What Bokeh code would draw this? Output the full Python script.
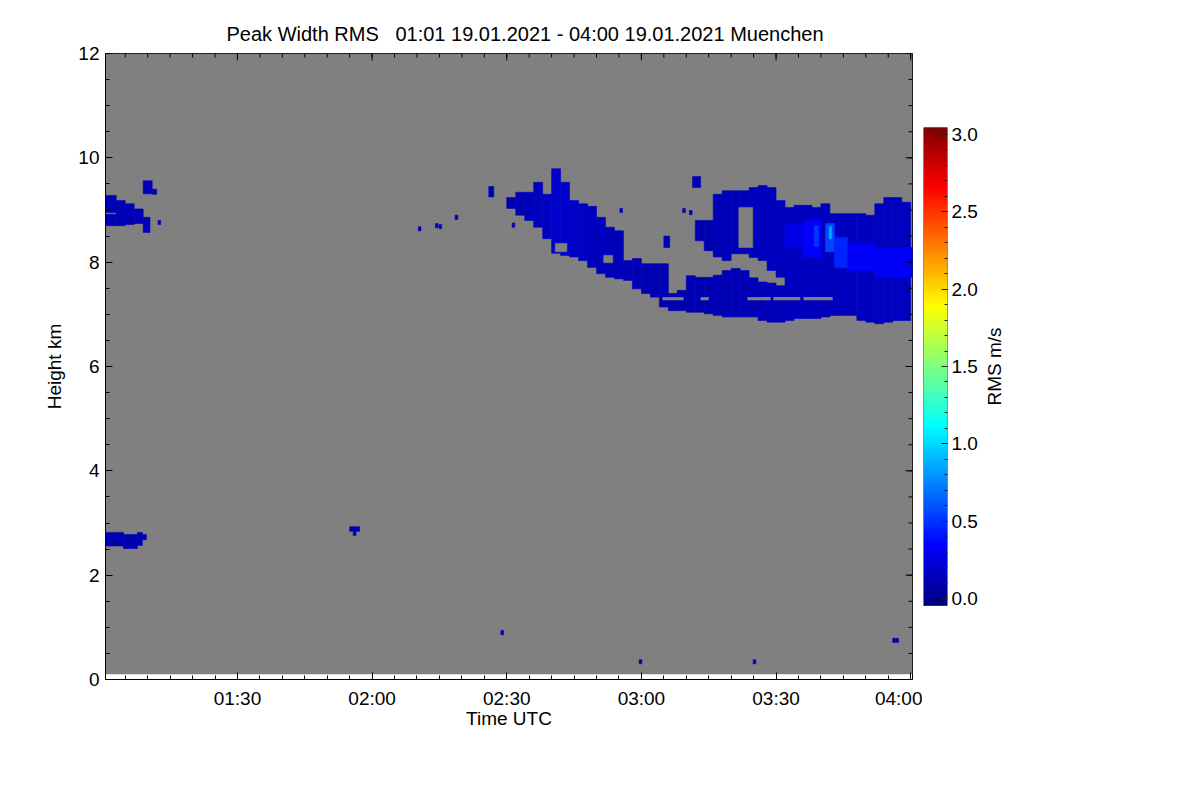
import numpy as np
from bokeh.plotting import figure
from bokeh.models import (LinearColorMapper, FixedTicker, Range1d, ColumnDataSource)
from bokeh.layouts import row
from bokeh.embed import file_html
from bokeh.resources import INLINE
from bokeh.transform import linear_cmap

# ---------------- data (time = minutes after 00:00 UTC, height = km, RMS = m/s) ----------------
NB = "\u00a0"
title_text = "Peak Width RMS" + NB * 3 + "01:01 19.01.2021 - 04:00 19.01.2021 Muenchen"
obs_start, obs_end = 60.6, 240.4
h_min, h_max = 0.1, 12.0

x_ticks = [90, 120, 150, 180, 210, 240]
x_tick_labels = ["01:30", "02:00", "02:30", "03:00", "03:30", "04:00"]
y_ticks = [0, 2, 4, 6, 8, 10, 12]
y_tick_labels = ["0", "2", "4", "6", "8", "10", "12"]
cb_ticks = [0.0, 0.5, 1.0, 1.5, 2.0, 2.5, 3.0]
cb_tick_labels = ["0.0", "0.5", "1.0", "1.5", "2.0", "2.5", "3.0"]
cb_low, cb_high = -0.045, 3.043

# main cirrus body, 2-minute columns (centre times)
main_t = [151, 153, 155, 157, 159, 161, 163, 165, 167, 169, 171, 173, 175, 177, 179,
          181, 183, 185, 187, 189, 191, 193, 195, 197, 199, 201, 203, 205, 207, 209,
          211, 213, 215, 217, 219, 221, 223, 225, 227, 229, 231, 233, 235, 237, 239]
main_bot = [9.03, 8.90, 8.80, 8.67, 8.45, 8.17, 8.13, 8.10, 8.03, 7.90, 7.78, 7.71, 7.68, 7.65, 7.49,
            7.40, 7.33, 7.14, 7.07, 7.07, 7.04, 7.04, 7.01, 6.98, 6.95, 6.95, 6.95, 6.95, 6.88, 6.85,
            6.85, 6.88, 6.92, 6.92, 6.92, 6.95, 6.98, 6.98, 6.98, 6.88, 6.85, 6.82, 6.85, 6.88, 6.88]
main_top = [9.24, 9.34, 9.34, 9.53, 9.30, 9.79, 9.53, 9.18, 9.12, 9.07, 8.86, 8.67, 8.60, 8.03, 8.07,
            7.97, 7.97, 7.97, 7.40, 7.46, 7.74, 7.71, 7.71, 7.75, 7.84, 7.88, 7.84, 7.70, 7.62, 7.60,
            7.55, 9.05, 9.09, 9.09, 9.05, 9.12, 8.93, 8.93, 8.93, 8.93, 8.90, 9.12, 9.24, 9.24, 9.15]
main_val = [0.12, 0.13, 0.14, 0.15, 0.17, 0.19, 0.19, 0.18, 0.17, 0.16, 0.15, 0.14, 0.14, 0.13, 0.13,
            0.12, 0.12, 0.12, 0.11, 0.11, 0.12, 0.12, 0.12, 0.13, 0.13, 0.13, 0.13, 0.13, 0.14, 0.14,
            0.14, 0.15, 0.16, 0.16, 0.16, 0.16, 0.16, 0.15, 0.15, 0.15, 0.15, 0.15, 0.16, 0.16, 0.16]

# upper detached part of the cloud
isl_t = [193, 195, 197, 199, 201, 203, 205, 207, 209, 211]
isl_bot = [8.41, 8.22, 8.10, 8.03, 8.16, 8.16, 8.09, 8.03, 7.84, 7.71]
isl_top = [8.80, 8.80, 9.30, 9.37, 9.37, 9.37, 9.43, 9.47, 9.43, 9.18]
isl_val = [0.12, 0.12, 0.13, 0.14, 0.14, 0.14, 0.15, 0.15, 0.15, 0.15]

# brighter (higher RMS) band inside the cloud
br_t0 = [212.0, 216.0, 218.5, 221.0, 221.8, 223.0, 226.0, 232.0]
br_t1 = [216.0, 220.0, 219.5, 223.0, 222.4, 226.0, 232.0, 240.4]
br_bot = [8.28, 8.10, 8.30, 8.20, 8.45, 7.90, 7.84, 7.71]
br_top = [8.74, 8.80, 8.70, 8.74, 8.68, 8.47, 8.36, 8.28]
br_val = [0.28, 0.34, 0.50, 0.55, 0.85, 0.45, 0.34, 0.32]

# smaller cloud patches
pt_t0 = [60.6, 60.6, 63.0, 65.0, 67.0, 69.0, 69.0, 71.0,
         60.6, 64.6, 67.7, 68.8, 115.0, 115.8,
         146.0, 191.4, 185.0]
pt_t1 = [63.0, 63.0, 65.0, 67.0, 69.0, 70.5, 71.0, 72.0,
         64.6, 67.7, 68.8, 69.7, 117.2, 116.4,
         147.1, 193.2, 186.3]
pt_bot = [8.95, 8.70, 8.70, 8.72, 8.74, 8.57, 9.31, 9.30,
          2.56, 2.51, 2.57, 2.68, 2.84, 2.76,
          9.25, 9.43, 8.28]
pt_top = [9.28, 8.92, 9.18, 9.12, 9.02, 8.86, 9.56, 9.40,
          2.82, 2.78, 2.82, 2.78, 2.93, 2.84,
          9.45, 9.64, 8.50]
pt_val = [0.13, 0.13, 0.13, 0.13, 0.13, 0.13, 0.13, 0.13,
          0.12, 0.12, 0.12, 0.12, 0.12, 0.12,
          0.13, 0.13, 0.13]

# single range-gate echoes
sp_t = [72.6, 130.6, 134.4, 135.2, 138.8, 151.5, 175.5, 189.5, 191.0, 149.0, 179.8, 205.2, 236.3, 237.0]
sp_h = [8.76, 8.64, 8.70, 8.68, 8.86, 8.71, 8.99, 8.99, 8.95, 0.90, 0.34, 0.34, 0.75, 0.75]
sp_val = [0.13, 0.13, 0.13, 0.13, 0.13, 0.13, 0.13, 0.13, 0.13, 0.12, 0.12, 0.12, 0.12, 0.12]

# no-data holes inside the cloud
gap_t0 = [201.7, 160.8, 171.6]
gap_t1 = [204.8, 163.4, 173.6]
gap_bot = [8.28, 8.20, 7.99]
gap_top = [9.05, 8.36, 8.13]

# no-data line at 7.3 km
gl_t0 = [184.7, 193.2, 203.6, 209.4, 216.1]
gl_t1 = [189.4, 195.0, 208.8, 215.4, 222.6]
gl_h = 7.30

# ---------------- styling ----------------
GRAY = "#808080"
FONT = "Liberation Sans"
FS = "19px"
FRAME_W, FRAME_H = 807, 626


def jet(n=256):
    cols = []
    for f in np.linspace(0, 1, n):
        r = np.clip(1.5 - abs(4 * f - 3), 0, 1)
        g = np.clip(1.5 - abs(4 * f - 2), 0, 1)
        b = np.clip(1.5 - abs(4 * f - 1), 0, 1)
        cols.append("#%02x%02x%02x" % (int(r * 255), int(g * 255), int(b * 255)))
    return cols


PAL = jet()
mapper = LinearColorMapper(palette=PAL, low=cb_low, high=cb_high)

# frame: x 105..912, y 53..679 (page pixels)
p = figure(width=922, height=760, x_range=Range1d(obs_start, obs_end), y_range=Range1d(0, 12),
           output_backend="svg", toolbar_location=None,
           min_border_left=105, min_border_right=10, min_border_top=53, min_border_bottom=81)
p.background_fill_color = "white"
p.border_fill_color = "white"
p.outline_line_color = "black"
p.outline_line_width = 1
p.grid.visible = False

p.title.text = title_text
p.title.align = "left"
p.title.offset = 121
p.title.standoff = 17
p.title.text_font = FONT
p.title.text_font_size = "20px"
p.title.text_font_style = "normal"
p.title.text_color = "black"

# gray "no data" background
p.quad(left=[obs_start], right=[obs_end], bottom=[h_min], top=[h_max], fill_color=GRAY, line_color=None)


def cells(l, r, b, t, v):
    src = ColumnDataSource(dict(l=l, r=r, b=b, t=t, v=v))
    cm = linear_cmap("v", PAL, cb_low, cb_high)
    p.quad(left="l", right="r", bottom="b", top="t", source=src,
           fill_color=cm, line_color=cm, line_width=0.6)


half = 1.0
cells([t - half for t in main_t], [t + half for t in main_t], main_bot, main_top, main_val)
cells([t - half for t in isl_t], [t + half for t in isl_t], isl_bot, isl_top, isl_val)
cells(br_t0, br_t1, br_bot, br_top, br_val)
cells(pt_t0, pt_t1, pt_bot, pt_top, pt_val)
cells([t - 0.3 for t in sp_t], [t + 0.3 for t in sp_t], [h - 0.04 for h in sp_h], [h + 0.04 for h in sp_h], sp_val)

p.quad(left=gap_t0, right=gap_t1, bottom=gap_bot, top=gap_top, fill_color=GRAY, line_color=GRAY, line_width=0.6)
p.quad(left=gl_t0, right=gl_t1, bottom=[gl_h - 0.03] * len(gl_t0), top=[gl_h + 0.03] * len(gl_t0),
       fill_color=GRAY, line_color=None)

x_minor = list(range(65, 241, 5))
y_minor = [i * 0.5 for i in range(25)]

# mirrored tick marks on the top and right frame edges
kx = (obs_end - obs_start) / FRAME_W   # minutes per pixel
ky = 12.0 / FRAME_H                    # km per pixel
MAJ, MIN = 7, 4
p.segment(x0=x_ticks, x1=x_ticks, y0=[12] * len(x_ticks), y1=[12 - MAJ * ky] * len(x_ticks),
          line_color="black", line_width=1)
p.segment(x0=x_minor, x1=x_minor, y0=[12] * len(x_minor), y1=[12 - MIN * ky] * len(x_minor),
          line_color="black", line_width=1)
p.segment(x0=[obs_end] * len(y_ticks), x1=[obs_end - MAJ * kx] * len(y_ticks), y0=y_ticks, y1=y_ticks,
          line_color="black", line_width=1)
p.segment(x0=[obs_end] * len(y_minor), x1=[obs_end - MIN * kx] * len(y_minor), y0=y_minor, y1=y_minor,
          line_color="black", line_width=1)


def style(ax, ticks, minor, labels):
    ax.ticker = FixedTicker(ticks=ticks, minor_ticks=minor)
    ax.major_tick_in = MAJ
    ax.major_tick_out = 0
    ax.minor_tick_in = MIN
    ax.minor_tick_out = 0
    ax.axis_line_color = "black"
    ax.major_tick_line_color = "black"
    ax.minor_tick_line_color = "black"
    ax.major_label_text_font = FONT
    ax.major_label_text_color = "black"
    ax.major_label_text_font_size = FS
    ax.major_label_overrides = dict(zip(ticks, labels))
    ax.axis_label_text_font = FONT
    ax.axis_label_text_font_size = FS
    ax.axis_label_text_font_style = "normal"
    ax.axis_label_text_color = "black"


style(p.xaxis[0], x_ticks, x_minor, x_tick_labels)
p.xaxis[0].axis_label = "Time UTC"
p.xaxis[0].major_label_standoff = 8
p.xaxis[0].axis_label_standoff = -4
style(p.yaxis[0], y_ticks, y_minor, y_tick_labels)
p.yaxis[0].axis_label = "Height km"
p.yaxis[0].major_label_standoff = 6
p.yaxis[0].axis_label_standoff = 10

# ---------------- colour bar (frame aligned with the main frame; bar spans page y 127..605) ----------------
px_per_unit = 477.7 / (cb_high - cb_low)
cb_y0 = cb_low - 74.0 / px_per_unit
cb_y1 = cb_high + (626.0 - 551.7) / px_per_unit
cb = figure(width=58, height=760, x_range=Range1d(0, 1), y_range=Range1d(cb_y0, cb_y1),
            output_backend="svg", toolbar_location=None, y_axis_location="right", x_axis_location=None,
            min_border_left=1, min_border_right=32, min_border_top=53, min_border_bottom=81)
cb.grid.visible = False
cb.outline_line_color = None
cb.border_fill_color = "white"
cb.background_fill_color = "white"
cb.image(image=[np.linspace(cb_low, cb_high, 256).reshape(-1, 1)], x=0, y=cb_low, dw=1,
         dh=cb_high - cb_low, color_mapper=mapper)
cb.quad(left=[0], right=[1], bottom=[cb_low], top=[cb_high], fill_color=None, line_color="#333333", line_width=1)
ay = cb.yaxis[0]
cb_minor = [round(i * 0.1, 1) for i in range(31)]
ay.ticker = FixedTicker(ticks=cb_ticks, minor_ticks=cb_minor)
ay.major_label_overrides = dict(zip(cb_ticks, cb_tick_labels))
ay.major_tick_in = 6
ay.major_tick_out = 0
ay.minor_tick_in = 3
ay.minor_tick_out = 0
ay.axis_line_color = None
ay.major_tick_line_color = "#222222"
ay.minor_tick_line_color = "#222222"
ay.major_label_standoff = 4
ay.major_label_text_font = FONT
ay.major_label_text_font_size = FS
ay.major_label_text_color = "black"

# colour-bar title: the left axis label of a narrow, empty companion panel (reads bottom-to-top)
lab = figure(width=40, height=760, x_range=Range1d(0, 1), y_range=Range1d(0, 1),
             output_backend="svg", toolbar_location=None, x_axis_location=None,
             min_border_left=9, min_border_right=1, min_border_top=53, min_border_bottom=81)
lab.grid.visible = False
lab.outline_line_color = None
lab.border_fill_color = "white"
lab.background_fill_color = "white"
la = lab.yaxis[0]
la.ticker = FixedTicker(ticks=[])
la.axis_line_color = None
la.major_tick_line_color = None
la.minor_tick_line_color = None
la.major_label_standoff = 0
la.axis_label = "RMS m/s"
la.axis_label_standoff = 0
la.axis_label_text_font = FONT
la.axis_label_text_font_size = FS
la.axis_label_text_font_style = "normal"
la.axis_label_text_color = "black"
lab.scatter(x=[0.5], y=[0.5], size=0, alpha=0)

layout = row(p, cb, lab)
open("out.html", "w").write(file_html(layout, INLINE))
